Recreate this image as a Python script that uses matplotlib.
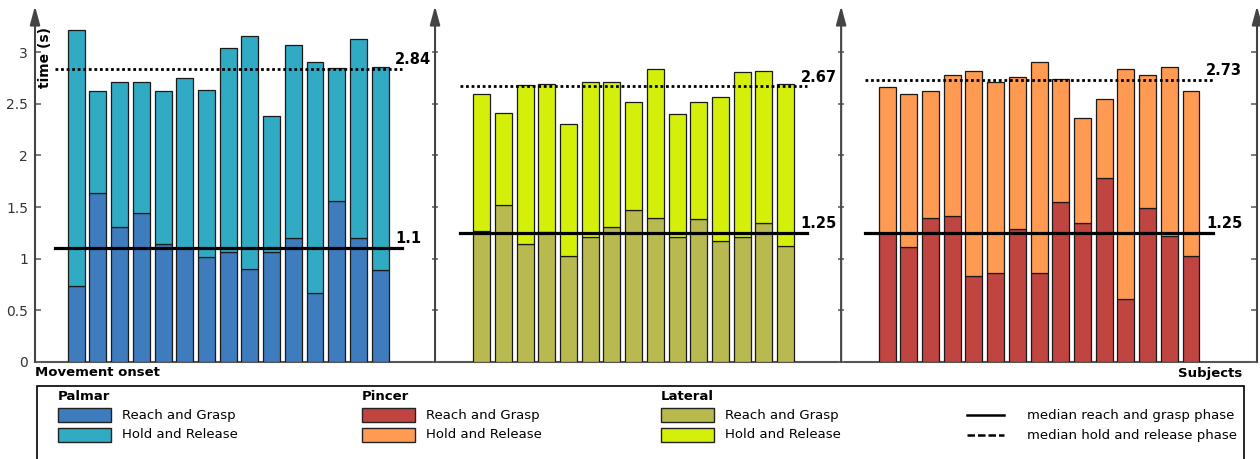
import matplotlib
matplotlib.use("Agg")
import matplotlib.pyplot as plt
from matplotlib.patches import Rectangle
from matplotlib.lines import Line2D

# ==== DATA ====
grasps = ["Palmar", "Lateral", "Pincer"]
subjects = list(range(1, 16))

palmar_reach = [0.73, 1.64, 1.31, 1.44, 1.14, 1.10, 1.02, 1.06, 0.90, 1.06, 1.20, 0.67, 1.56, 1.20, 0.89]
palmar_hold = [2.49, 0.99, 1.40, 1.27, 1.49, 1.65, 1.62, 1.98, 2.26, 1.32, 1.87, 2.24, 1.29, 1.93, 1.97]

lateral_reach = [1.27, 1.52, 1.14, 1.26, 1.03, 1.21, 1.31, 1.47, 1.39, 1.21, 1.38, 1.17, 1.21, 1.35, 1.12]
lateral_hold = [1.33, 0.89, 1.54, 1.43, 1.28, 1.50, 1.40, 1.05, 1.45, 1.19, 1.14, 1.40, 1.60, 1.47, 1.57]

pincer_reach = [1.25, 1.11, 1.39, 1.41, 0.83, 0.86, 1.29, 0.86, 1.55, 1.35, 1.78, 0.61, 1.49, 1.22, 1.03]
pincer_hold = [1.41, 1.49, 1.24, 1.37, 1.99, 1.85, 1.47, 2.05, 1.19, 1.01, 0.77, 2.23, 1.29, 1.64, 1.60]

median_reach = [1.1, 1.25, 1.25]
median_total = [2.84, 2.67, 2.73]
median_labels_reach = ["1.1", "1.25", "1.25"]
median_labels_total = ["2.84", "2.67", "2.73"]

yticks = [0, 0.5, 1, 1.5, 2, 2.5, 3]
yticklabels = ["0", "0.5", "1", "1.5", "2", "2.5", "3"]

# colours (reach, hold)
colors = {
    "Palmar": ("#3e7cbd", "#31aac4"),
    "Lateral": ("#b8ba50", "#d4f00a"),
    "Pincer": ("#c04440", "#ff9a52"),
}

reach_data = [palmar_reach, lateral_reach, pincer_reach]
hold_data = [palmar_hold, lateral_hold, pincer_hold]

# ==== LAYOUT ====
W, H = 1260, 459
GROUP_GAP = 18.68
BAR_W = 0.78
XMIN, XMAX = -1.9, 54.4
YMAX = 3.45


def fx(x):
    return x / W


def fy(y):
    return 1 - y / H


fig = plt.figure(figsize=(W / 100, H / 100), dpi=100)
ax = fig.add_axes([fx(35), fy(361.7), (1257 - 35) / W, 355.7 / H])
ax.set_xlim(XMIN, XMAX)
ax.set_ylim(0, YMAX)
for s in ax.spines.values():
    s.set_visible(False)
ax.set_xticks([])
ax.set_yticks(yticks)
ax.set_yticklabels(yticklabels, fontsize=10, color="#333333")
ax.tick_params(axis="y", direction="in", length=4, width=1.2, color="#666666", pad=5)

# baseline
ax.plot([XMIN, XMAX], [0, 0], color="#555555", lw=1.5, clip_on=False, zorder=1)

# vertical axis lines with arrows
axis_x = [XMIN, GROUP_GAP - 2.15, 2 * GROUP_GAP - 2.12, XMAX]
for i, xa in enumerate(axis_x):
    ax.annotate("", xy=(xa, 3.45), xytext=(xa, 0), xycoords="data",
                arrowprops=dict(arrowstyle="-|>,head_length=1.4,head_width=0.38",
                                color="#444444", lw=1.5, mutation_scale=8,
                                shrinkA=0, shrinkB=0),
                annotation_clip=False)
    if i in (1, 2):
        ax.plot([xa] * len(yticks), yticks, ls="none", marker="_", ms=5,
                mew=1.2, color="#666666", clip_on=False)
    elif i == 3:
        ax.plot([xa] * len(yticks), yticks, ls="none", marker=0, ms=4,
                mew=1.2, color="#666666", clip_on=False)

# stacked bars + medians per grasp
for g, name in enumerate(grasps):
    start = g * GROUP_GAP
    xs = [start + i for i in range(len(subjects))]
    c_reach, c_hold = colors[name]
    ax.bar(xs, reach_data[g], width=BAR_W, color=c_reach,
           edgecolor="#1a1a1a", lw=0.9, zorder=2)
    ax.bar(xs, hold_data[g], bottom=reach_data[g], width=BAR_W, color=c_hold,
           edgecolor="#1a1a1a", lw=0.9, zorder=2)

    x0, x1 = start - 1, start + len(subjects)
    ax.plot([x0, x1], [median_reach[g]] * 2, color="black", lw=2.3, zorder=3)
    ax.plot([x0, x1], [median_total[g]] * 2, color="black", lw=2,
            ls=(0, (1, 1)), zorder=3)
    ax.annotate(median_labels_reach[g], (start + 14.7, median_reach[g]),
                xytext=(0, 3.5), textcoords="offset points",
                fontsize=10.5, fontweight="bold", va="baseline", ha="left")
    ax.annotate(median_labels_total[g], (start + 14.7, median_total[g]),
                xytext=(0, 3.5), textcoords="offset points",
                fontsize=10.5, fontweight="bold", va="baseline", ha="left")

# axis texts
fig.text(fx(45), fy(57.5), "time (s)", rotation=90, fontsize=10,
         fontweight="bold", ha="center", va="center")
fig.text(fx(35), fy(373), "Movement onset", fontsize=9.5, fontweight="bold",
         ha="left", va="center")
fig.text(fx(1242), fy(373), "Subjects", fontsize=9.5, fontweight="bold",
         ha="right", va="center")

# ==== LEGEND BOX ====
fig.patches.append(Rectangle((fx(36.7), fy(470)), (1244 - 36.7) / W, (470 - 386) / H,
                             transform=fig.transFigure, fill=False,
                             edgecolor="black", lw=1.2))

legend_x = {"Palmar": 58, "Pincer": 362, "Lateral": 661}
for name in ["Palmar", "Pincer", "Lateral"]:
    lx = legend_x[name]
    c_reach, c_hold = colors[name]
    fig.text(fx(lx), fy(397), name, fontsize=9.5, fontweight="bold",
             ha="left", va="center")
    for row, (col, lab) in enumerate([(c_reach, "Reach and Grasp"),
                                      (c_hold, "Hold and Release")]):
        yc = 415 + row * 20
        fig.patches.append(Rectangle((fx(lx), fy(yc + 7)), 53 / W, 14 / H,
                                     transform=fig.transFigure, facecolor=col,
                                     edgecolor="#222222", lw=1))
        fig.text(fx(lx + 64), fy(yc), lab, fontsize=9.5, ha="left", va="center")

for row, (ls, lab) in enumerate([("-", "median reach and grasp phase"),
                                 ((0, (3, 1.2)), "median hold and release phase")]):
    yc = 415 + row * 20
    fig.lines.append(Line2D([fx(967), fx(1004)], [fy(yc), fy(yc)],
                            transform=fig.transFigure, color="black", lw=1.8, ls=ls))
    fig.text(fx(1027), fy(yc), lab, fontsize=9.5, ha="left", va="center")

fig.savefig("out.png", dpi=100)
